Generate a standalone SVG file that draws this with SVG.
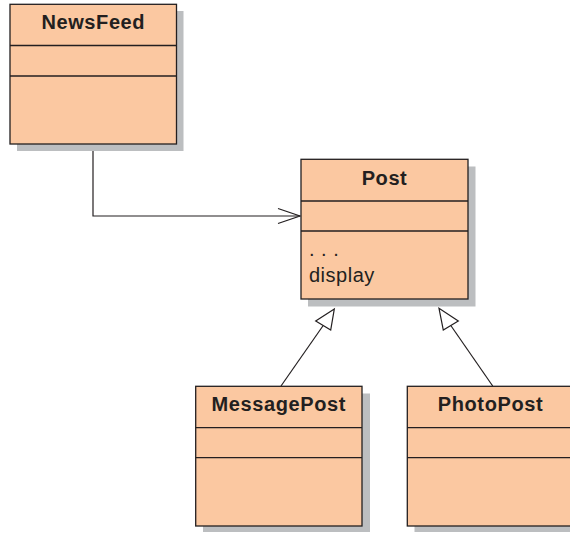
<svg xmlns="http://www.w3.org/2000/svg" width="570" height="533" viewBox="0 0 570 533">
<style>
.shadow{fill:#bcbec0;stroke:none}
.box{fill:#fbc8a1;stroke:#231f20;stroke-width:1.3}
.div{stroke:#231f20;stroke-width:1.3}
.title{font-family:"Liberation Sans",Arial,sans-serif;font-weight:bold;font-size:20px;fill:#231f20;text-anchor:middle;letter-spacing:0.6px}
.op{font-family:"Liberation Sans",Arial,sans-serif;font-size:20px;fill:#231f20;letter-spacing:0.5px}
.conn{fill:none;stroke:#231f20;stroke-width:1.2}
.tri{fill:#ffffff;stroke:#231f20;stroke-width:1.2}
</style>
<rect width="570" height="533" fill="#ffffff"/>
<g id="connectors">
<polyline class="conn" points="93,144 93,216 300,216"/>
<polyline class="conn" points="278,208.5 300,216 278,223.5"/>
<line class="conn" x1="281" y1="386" x2="323.2" y2="325.5"/>
<polygon class="tri" points="334.3,309 315.7,321 330.7,330"/>
<line class="conn" x1="492.7" y1="386" x2="450.8" y2="325.5"/>
<polygon class="tri" points="439,308.3 443.3,330 458.3,321"/>
</g>
<g id="NewsFeed">
<rect class="shadow" x="17" y="11" width="166.5" height="140"/>
<rect class="box" x="10" y="4.3" width="166.5" height="139.7"/>
<line class="div" x1="10" y1="45.5" x2="176.5" y2="45.5"/>
<line class="div" x1="10" y1="76" x2="176.5" y2="76"/>
<text class="title" x="93.3" y="29.3">NewsFeed</text>
</g>
<g id="Post">
<rect class="shadow" x="308" y="166.5" width="167.5" height="140"/>
<rect class="box" x="301" y="159.3" width="167" height="139.7"/>
<line class="div" x1="301" y1="201" x2="468" y2="201"/>
<line class="div" x1="301" y1="231" x2="468" y2="231"/>
<text class="title" x="384.5" y="184.5">Post</text>
<text class="op" x="309" y="256">. . .</text>
<text class="op" x="309" y="281.7">display</text>
</g>
<g id="MessagePost">
<rect class="shadow" x="203" y="393.5" width="167" height="138.5"/>
<rect class="box" x="195.7" y="386.3" width="166.3" height="139.7"/>
<line class="div" x1="195.7" y1="427.7" x2="362" y2="427.7"/>
<line class="div" x1="195.7" y1="457.7" x2="362" y2="457.7"/>
<text class="title" x="278.8" y="411">MessagePost</text>
</g>
<g id="PhotoPost">
<rect class="shadow" x="414.5" y="393.5" width="167" height="138.5"/>
<rect class="box" x="407.3" y="386.3" width="166.3" height="139.7"/>
<line class="div" x1="407.3" y1="427.7" x2="573.6" y2="427.7"/>
<line class="div" x1="407.3" y1="457.7" x2="573.6" y2="457.7"/>
<text class="title" x="490.5" y="411">PhotoPost</text>
</g>
</svg>
